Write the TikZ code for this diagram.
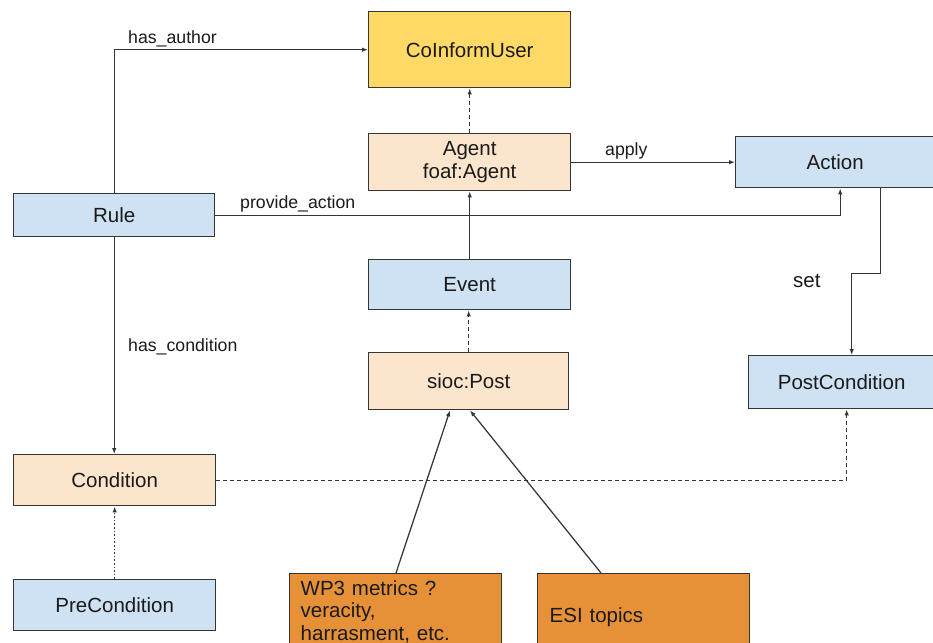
\documentclass[tikz,border=0pt]{standalone}
\usepackage{fontspec}
\setmainfont{Liberation Sans}
\usetikzlibrary{arrows.meta}

\definecolor{blueFill}{HTML}{CFE2F3}
\definecolor{peachFill}{HTML}{FCE5CD}
\definecolor{goldFill}{HTML}{FFD966}
\definecolor{orangeFill}{HTML}{E69138}
\definecolor{edgeGray}{HTML}{353535}
\definecolor{textGray}{HTML}{1A1A1A}

\begin{document}
\begin{tikzpicture}[x=1pt,y=-1pt,
  box/.style={draw=edgeGray, line width=1.4pt, anchor=north west, inner sep=0pt,
    text=textGray, font=\fontsize{20.5}{22.5}\selectfont, align=center},
  conn/.style={draw=edgeGray, line width=1.25pt, -{Latex[length=6pt,width=4.5pt]}},
  dashconn/.style={conn, dash pattern=on 4pt off 3pt},
  dotconn/.style={conn, dash pattern=on 1.6pt off 2pt},
  lbl/.style={font=\fontsize{17.7}{20}\selectfont, anchor=base west, inner sep=0pt, text=textGray}
]
\useasboundingbox (0,0) rectangle (933,642);
\clip (0,0) rectangle (933,642);

% classes
\node[box, fill=goldFill, minimum width=202, minimum height=76] (user) at (368,11) {\raisebox{-3.5pt}{CoInformUser}};
\node[box, fill=peachFill, minimum width=202, minimum height=57] (agent) at (368,133) {Agent\\foaf:Agent};
\node[box, fill=blueFill, minimum width=199, minimum height=51] (action) at (735,136) {Action};
\node[box, fill=blueFill, minimum width=201, minimum height=43] (rule) at (13,193) {Rule};
\node[box, fill=blueFill, minimum width=202, minimum height=50] (event) at (368,259) {Event};
\node[box, fill=peachFill, minimum width=200, minimum height=57] (post) at (368,352) {sioc:Post};
\node[box, fill=blueFill, minimum width=186, minimum height=53] (postcond) at (748,355) {PostCondition};
\node[box, fill=peachFill, minimum width=202, minimum height=51] (cond) at (13,454) {Condition};
\node[box, fill=blueFill, minimum width=202, minimum height=51] (precond) at (13,579) {PreCondition};
\node[box, fill=orangeFill, minimum width=212, minimum height=76, text width=190,
      align=left, inner xsep=11pt] (wp3) at (289,573) {WP3 metrics ?\\veracity,\\harrasment, etc.};
\node[box, fill=orangeFill, minimum width=212, minimum height=86, text width=188,
      align=left, inner xsep=12pt] (esi) at (537,573) {ESI topics};

% relations
\draw[conn] (rule.north) |- (user.west);
\draw[conn] (rule.south) -- (rule.south |- cond.north);
\draw[conn] (rule.east) -| ([xshift=5]action.south);
\draw[conn] (agent.east) -- (action.west |- agent.east);
\draw[dashconn] (agent.north) -- (agent.north |- user.south);
\draw[conn] (event.north) -- (event.north |- agent.south);
\draw[dashconn] (post.north) -- (post.north |- event.south);
\draw[conn] ([xshift=45]action.south) -- ++(0,85) -| ([xshift=10]postcond.north);
\draw[dashconn] (cond.east) -| ([xshift=5]postcond.south);
\draw[dotconn] (precond.north) -- (precond.north |- cond.south);
\draw[conn] ([xshift=107]wp3.north west) -- ([xshift=82]post.south west);
\draw[conn] ([xshift=64]esi.north west) -- ([xshift=102]post.south west);

% relation labels
\node[lbl] (lAuthor) at (128,44) {has\_author};
\node[lbl] (lProvide) at (240,208) {provide\_action};
\node[lbl] (lApply) at (605,155) {apply};
\node[lbl, font=\fontsize{20.5}{22}\selectfont] (lSet) at (793,287) {set};
\node[lbl] (lCond) at (128,351) {has\_condition};
\end{tikzpicture}
\end{document}
